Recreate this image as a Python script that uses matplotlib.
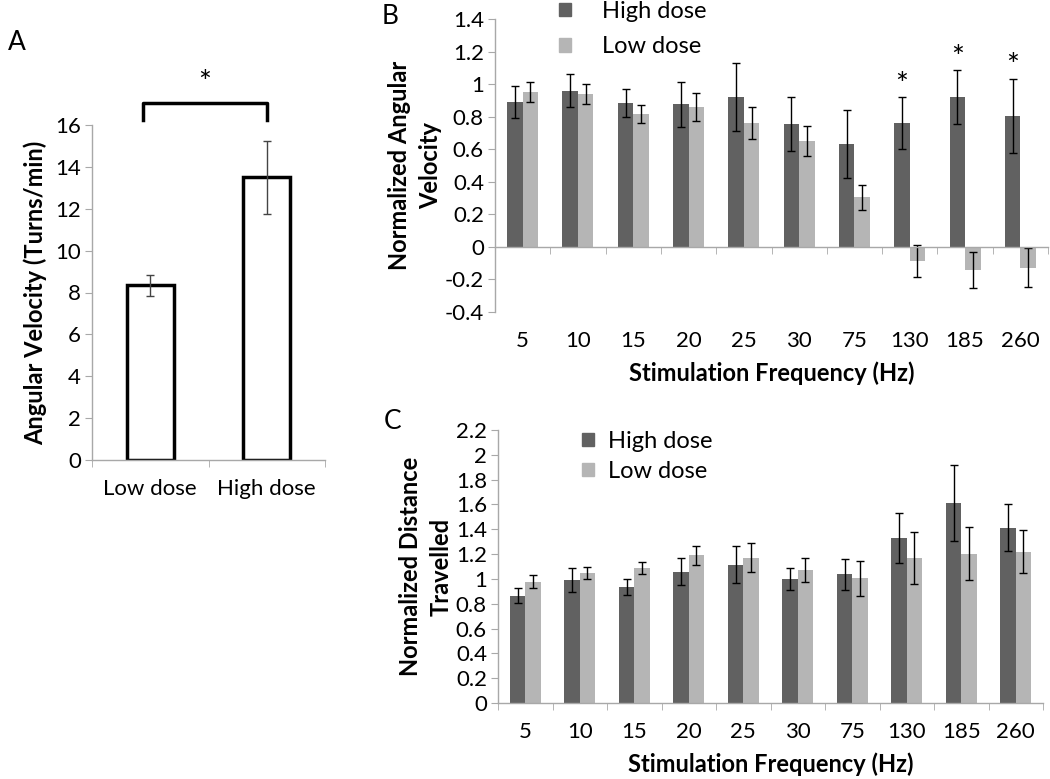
import matplotlib.pyplot as plt
import numpy as np
from matplotlib.patches import Patch

plt.rcParams['font.family'] = ['Lato', 'DejaVu Sans']

DARK = '#616161'
LIGHT = '#b5b5b5'
SPINE = '#a8a8a8'

# panel A
DOSES = ['Low dose', 'High dose']
TURNS_MEAN = [8.35, 13.5]
TURNS_ERR = [0.5, 1.75]

# panels B and C
FREQS = ['5', '10', '15', '20', '25', '30', '75', '130', '185', '260']
ANG_HIGH = [0.89, 0.96, 0.885, 0.875, 0.92, 0.757, 0.632, 0.759, 0.92, 0.804]
ANG_HIGH_ERR = [0.10, 0.10, 0.085, 0.14, 0.21, 0.165, 0.21, 0.16, 0.165, 0.23]
ANG_LOW = [0.95, 0.94, 0.815, 0.86, 0.76, 0.65, 0.304, -0.086, -0.142, -0.128]
ANG_LOW_ERR = [0.06, 0.06, 0.055, 0.085, 0.10, 0.09, 0.075, 0.10, 0.11, 0.12]
ANG_SIG = ['', '', '', '', '', '', '', '*', '*', '*']

DIST_HIGH = [0.863, 0.99, 0.935, 1.059, 1.115, 0.997, 1.038, 1.33, 1.613, 1.414]
DIST_HIGH_ERR = [0.06, 0.095, 0.065, 0.11, 0.15, 0.09, 0.125, 0.2, 0.305, 0.19]
DIST_LOW = [0.978, 1.05, 1.086, 1.19, 1.172, 1.073, 1.006, 1.172, 1.204, 1.22]
DIST_LOW_ERR = [0.05, 0.05, 0.05, 0.075, 0.12, 0.095, 0.14, 0.21, 0.215, 0.175]

TICK_FS = 16
LABEL_FS = 17
LEGEND_FS = 17


def style_axes(ax):
    for side in ['top', 'right']:
        ax.spines[side].set_visible(False)
    for side in ['left', 'bottom']:
        ax.spines[side].set_color(SPINE)
        ax.spines[side].set_linewidth(1.0)
    ax.tick_params(axis='y', direction='out', length=5, color=SPINE,
                   labelsize=TICK_FS, pad=3)


def category_axis(ax, labels, xlabel):
    n = len(labels)
    ax.set_xlim(-0.5, n - 0.5)
    ax.set_xticks(np.arange(n + 1) - 0.5, minor=True)
    ax.set_xticks([])
    ax.tick_params(axis='x', which='minor', direction='out', length=5,
                   color=SPINE)
    sec = ax.secondary_xaxis('bottom')
    sec.set_xticks(np.arange(n), labels)
    sec.tick_params(length=0, labelsize=TICK_FS, pad=14)
    sec.spines['bottom'].set_visible(False)
    if xlabel:
        sec.set_xlabel(xlabel, fontsize=LABEL_FS, fontweight='bold',
                       labelpad=7)
    return sec


def grouped_bars(ax, high, high_err, low, low_err):
    x = np.arange(len(high))
    w = 0.28
    err_kw = dict(ecolor='black', elinewidth=1, capsize=3, capthick=1)
    ax.bar(x - w / 2, high, w, color=DARK, yerr=high_err,
           error_kw=err_kw, zorder=2)
    ax.bar(x + w / 2, low, w, color=LIGHT, yerr=low_err,
           error_kw=err_kw, zorder=2)
    return x, w


def dose_legend(ax, anchor, textpad, spacing):
    handles = [Patch(color=DARK, label='High dose'),
               Patch(color=LIGHT, label='Low dose')]
    ax.legend(handles=handles, loc='upper left', bbox_to_anchor=anchor,
              bbox_transform=ax.figure.transFigure, frameon=False,
              fontsize=LEGEND_FS, handlelength=0.5, handleheight=0.5,
              handletextpad=textpad, labelspacing=spacing, borderpad=0,
              borderaxespad=0)


fig = plt.figure(figsize=(10.5, 7.79), dpi=100)

# ---- panel A ----
ax_a = fig.add_axes([92 / 1050, 319 / 779, 233 / 1050, 335 / 779])
style_axes(ax_a)
xa = np.arange(len(DOSES))
ax_a.bar(xa, TURNS_MEAN, 0.4, color='white', edgecolor='black',
         linewidth=2.5, zorder=2)
ax_a.errorbar(xa, TURNS_MEAN, yerr=TURNS_ERR, fmt='none', ecolor='#444444',
              elinewidth=1, capsize=3, capthick=1, zorder=3)
ax_a.set_ylim(0, 16)
ax_a.set_yticks(np.arange(0, 17, 2))
category_axis(ax_a, DOSES, None)
ax_a.set_ylabel('Angular Velocity (Turns/min)', fontsize=LABEL_FS,
                fontweight='bold', labelpad=6)
ax_a.plot([-0.06, -0.06, 1.0, 1.0], [16.25, 17.05, 17.05, 16.25],
          color='black', lw=2.5, solid_joinstyle='round', clip_on=False)
ax_a.text(0.47, 18.0, '*', fontsize=22, ha='center', va='center')
fig.text(8 / 1050, 1 - 42 / 779, 'A', fontsize=19, va='center')

# ---- panel B ----
ax_b = fig.add_axes([495 / 1050, 467 / 779, 553 / 1050, 293 / 779])
style_axes(ax_b)
xb, wb = grouped_bars(ax_b, ANG_HIGH, ANG_HIGH_ERR, ANG_LOW, ANG_LOW_ERR)
ax_b.set_ylim(-0.4, 1.4)
ax_b.set_yticks(np.arange(-0.4, 1.41, 0.2))
ax_b.set_yticklabels(['-0.4', '-0.2', '0', '0.2', '0.4', '0.6', '0.8', '1',
                      '1.2', '1.4'])
ax_b.spines['bottom'].set_position(('data', 0))
category_axis(ax_b, FREQS, 'Stimulation Frequency (Hz)')
for i, s in enumerate(ANG_SIG):
    if s:
        ax_b.text(xb[i] - wb / 2, ANG_HIGH[i] + ANG_HIGH_ERR[i] + 0.075, s,
                  fontsize=22, ha='center', va='center')
ax_b.set_ylabel('Normalized Angular\nVelocity', fontsize=LABEL_FS,
                fontweight='bold', labelpad=2, linespacing=1.4)
dose_legend(ax_b, (559 / 1050, 1 - 1 / 779), 1.3, 0.6)
fig.text(382 / 1050, 1 - 17 / 779, 'B', fontsize=19, va='center')

# ---- panel C ----
ax_c = fig.add_axes([498 / 1050, 76 / 779, 545 / 1050, 273 / 779])
style_axes(ax_c)
grouped_bars(ax_c, DIST_HIGH, DIST_HIGH_ERR, DIST_LOW, DIST_LOW_ERR)
ax_c.set_ylim(0, 2.2)
ax_c.set_yticks(np.arange(0, 2.21, 0.2))
ax_c.set_yticklabels(['0', '0.2', '0.4', '0.6', '0.8', '1', '1.2', '1.4',
                      '1.6', '1.8', '2', '2.2'])
category_axis(ax_c, FREQS, 'Stimulation Frequency (Hz)')
ax_c.set_ylabel('Normalized Distance\nTravelled', fontsize=LABEL_FS,
                fontweight='bold', labelpad=2, linespacing=1.4)
dose_legend(ax_c, (582 / 1050, 1 - 431 / 779), 0.6, 0.38)
fig.text(384 / 1050, 1 - 421 / 779, 'C', fontsize=19, va='center')

fig.savefig('out.png', dpi=100)
